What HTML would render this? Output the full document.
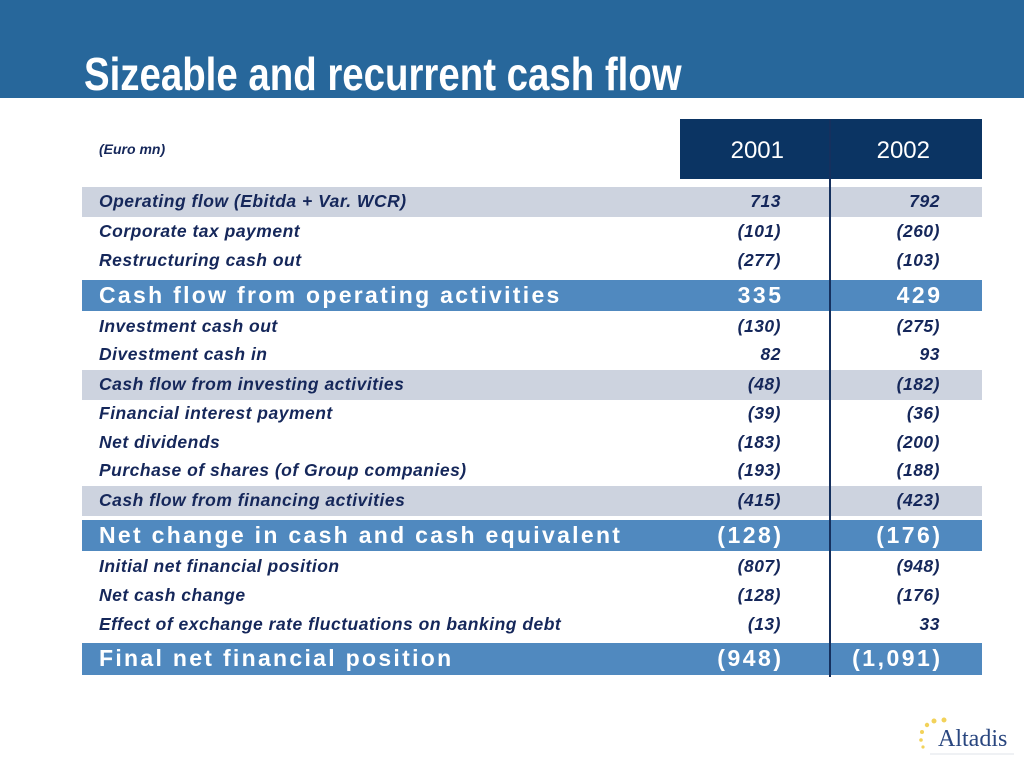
<!DOCTYPE html>
<html><head><meta charset="utf-8"><style>
body{margin:0;width:1024px;height:768px;position:relative;background:#fff;overflow:hidden;font-family:"Liberation Sans",Arial,sans-serif}
.hdr{position:absolute;left:0;top:0;width:1024px;height:98px;background:#27679b}
.title{position:absolute;left:84px;top:48px;font-size:46px;font-weight:bold;color:#fff;white-space:nowrap;transform:scaleX(0.835);transform-origin:left top;line-height:52px}
.row{position:absolute;left:82px;width:900px;height:29px}
.row span{position:absolute;top:0;line-height:29px;white-space:nowrap;color:#15275a;font-size:17.5px;font-style:italic;font-weight:bold;letter-spacing:0.5px}
.lbl{left:17px}
.c1{right:201px}
.c2{right:42px}
.gray{background:#cdd3df}
.blue{background:#5089bf}
.blue span{color:#fff;font-style:normal;font-size:23px;letter-spacing:2.3px;line-height:31px}
.blue span.c1,.blue span.c2{letter-spacing:2.5px;margin-right:-2.5px}
</style></head><body>
<div class="hdr"></div>
<div class="title">Sizeable and recurrent cash flow</div>
<div style="position:absolute;left:99px;top:141px;font-size:14px;font-style:italic;font-weight:bold;color:#15275a">(Euro mn)</div>
<div style="position:absolute;left:680px;top:119px;width:302px;height:60px;background:#0b3463"></div>
<div style="position:absolute;left:700px;top:137px;width:84px;text-align:right;color:#fff;font-size:24px">2001</div>
<div style="position:absolute;left:848px;top:137px;width:82px;text-align:right;color:#fff;font-size:24px">2002</div>

<div class="row gray" style="top:187px;height:30px"><span class="lbl">Operating flow (Ebitda + Var. WCR)</span><span class="c1">713</span><span class="c2">792</span></div>
<div class="row" style="top:217px"><span class="lbl">Corporate tax payment</span><span class="c1">(101)</span><span class="c2">(260)</span></div>
<div class="row" style="top:246px"><span class="lbl">Restructuring cash out</span><span class="c1">(277)</span><span class="c2">(103)</span></div>
<div class="row blue" style="top:280px;height:31px"><span class="lbl">Cash flow from operating activities</span><span class="c1">335</span><span class="c2">429</span></div>
<div class="row" style="top:312px"><span class="lbl">Investment cash out</span><span class="c1">(130)</span><span class="c2">(275)</span></div>
<div class="row" style="top:340px"><span class="lbl">Divestment cash in</span><span class="c1">82</span><span class="c2">93</span></div>
<div class="row gray" style="top:370px;height:30px"><span class="lbl">Cash flow from investing activities</span><span class="c1">(48)</span><span class="c2">(182)</span></div>
<div class="row" style="top:399px"><span class="lbl">Financial interest payment</span><span class="c1">(39)</span><span class="c2">(36)</span></div>
<div class="row" style="top:428px"><span class="lbl">Net dividends</span><span class="c1">(183)</span><span class="c2">(200)</span></div>
<div class="row" style="top:456px"><span class="lbl">Purchase of shares (of Group companies)</span><span class="c1">(193)</span><span class="c2">(188)</span></div>
<div class="row gray" style="top:486px;height:30px"><span class="lbl">Cash flow from financing activities</span><span class="c1">(415)</span><span class="c2">(423)</span></div>
<div class="row blue" style="top:520px;height:31px"><span class="lbl">Net change in cash and cash equivalent</span><span class="c1">(128)</span><span class="c2">(176)</span></div>
<div class="row" style="top:552px"><span class="lbl">Initial net financial position</span><span class="c1">(807)</span><span class="c2">(948)</span></div>
<div class="row" style="top:581px"><span class="lbl">Net cash change</span><span class="c1">(128)</span><span class="c2">(176)</span></div>
<div class="row" style="top:610px"><span class="lbl">Effect of exchange rate fluctuations on banking debt</span><span class="c1">(13)</span><span class="c2">33</span></div>
<div class="row blue" style="top:643px;height:32px"><span class="lbl">Final net financial position</span><span class="c1">(948)</span><span class="c2">(1,091)</span></div>

<div style="position:absolute;left:829px;top:119px;width:2px;height:558px;background:#15305e"></div>

<div style="position:absolute;left:918px;top:712px;width:100px;height:50px">
<svg width="100" height="50">
<g fill="#f2d25a"><circle cx="16" cy="9" r="2.5"/><circle cx="9" cy="13" r="2.2"/><circle cx="4" cy="20" r="2"/><circle cx="3" cy="28" r="1.8"/><circle cx="5" cy="35" r="1.6"/><circle cx="26" cy="8" r="2.5"/></g>
<line x1="12" y1="42" x2="96" y2="42" stroke="#dfe3ea" stroke-width="1"/>
</svg>
<div style="position:absolute;left:20px;top:14px;font-family:'Liberation Serif',serif;font-size:24px;color:#29467f">Altadis</div>
</div>
</body></html>
